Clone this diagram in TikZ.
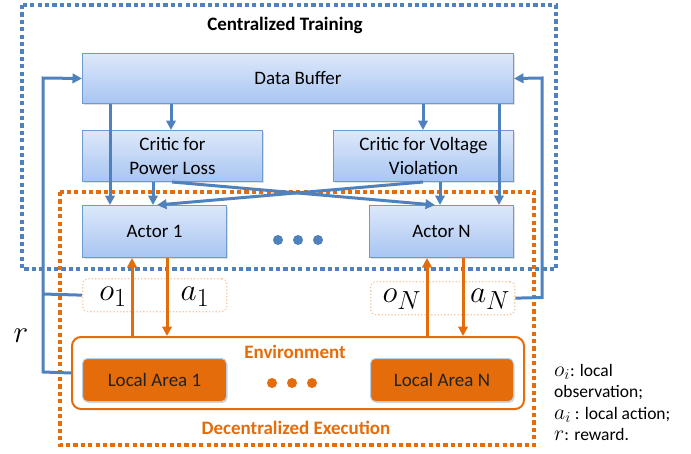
\documentclass[tikz,border=0pt]{standalone}
\usepackage{graphicx}
\usepackage{fontspec}
\setmainfont{Carlito}
\usetikzlibrary{arrows.meta,shadows}
\definecolor{lblue}{HTML}{4F81BD}
\definecolor{bborder}{HTML}{6E9AD0}
\definecolor{btop}{HTML}{DDE8FA}
\definecolor{bbot}{HTML}{A8C5F2}
\definecolor{orng}{HTML}{E46C0A}
\definecolor{lorng}{HTML}{F6C8A2}
\definecolor{ltext}{HTML}{222222}
\newcommand{\mylblmath}[1]{\scalebox{1.26}{\fontsize{24.88}{30}\selectfont$#1$}}
\newcommand{\mylegmath}[1]{\scalebox{1.05}{\fontsize{20.74}{24}\selectfont$#1$}}
\begin{document}
\begin{tikzpicture}[x=1pt,y=-1pt,
  bluebox/.style={draw=bborder, line width=1pt, top color=btop, bottom color=bbot,
     anchor=north west, inner sep=0pt, align=center, font=\fontsize{19}{24}\selectfont,
     drop shadow={shadow xshift=1pt, shadow yshift=-1.5pt, opacity=0.25}},
  areabox/.style={draw=cyan!30!lblue!40, line width=1pt, fill=orng, rounded corners=5pt,
     anchor=north west, inner sep=0pt, font=\fontsize{19}{24}\selectfont, text=ltext,
     drop shadow={shadow xshift=1pt, shadow yshift=-1.5pt, opacity=0.3}},
  obsbox/.style={draw=lorng, line width=1.3pt, dotted, rounded corners=5pt,
     anchor=north west, inner sep=0pt},
  bframe/.style={draw=lblue, line width=4.5pt, dash pattern=on 4.2pt off 3.2pt},
  oframe/.style={draw=orng, line width=4.5pt, dash pattern=on 4.2pt off 3.2pt},
  barrow/.style={draw=lblue, line width=3pt, -{Triangle[length=9.5pt,width=9.5pt]}},
  bline/.style={draw=lblue, line width=3pt},
  oarrow/.style={draw=orng, line width=3pt, -{Triangle[length=9.5pt,width=9.5pt]}},
  mathlbl/.style={inner sep=0pt},
  legend/.style={anchor=base west, inner sep=0pt, font=\fontsize{17.5}{21}\selectfont},
  dot/.style={circle, inner sep=0pt, minimum size=10pt}
]
\useasboundingbox (0,0) rectangle (691,453);

% frames
\draw[bframe] (22,5) rectangle (556,269);
\draw[oframe] (60,192) rectangle (534,445);

\node[font=\bfseries\fontsize{19}{24}\selectfont] (ct) at (285,25) {Centralized Training};

% boxes
\node[bluebox, minimum width=431pt, minimum height=50pt] (db) at (82,53) {Data Buffer};
\node[bluebox, minimum width=180pt, minimum height=51pt] (pl) at (82,130) {Critic for\\Power Loss};
\node[bluebox, minimum width=180pt, minimum height=51pt] (vv) at (333,130) {Critic for Voltage\\Violation};
\node[bluebox, minimum width=144pt, minimum height=52pt] (a1) at (82,205) {Actor 1};
\node[bluebox, minimum width=144pt, minimum height=52pt] (aN) at (369,205) {Actor N};

\node[dot, fill=lblue] (bd1) at (278,240) {};
\node[dot, fill=lblue] (bd2) at (298,240) {};
\node[dot, fill=lblue] (bd3) at (318,240) {};

% observation/action boxes
\node[obsbox, minimum width=144pt, minimum height=33pt] (oa1) at (82,278) {};
\node[obsbox, minimum width=144pt, minimum height=33pt] (oaN) at (370,281) {};
\node[mathlbl] (o1) at (113,297) {\mylblmath{o_1}};
\node[mathlbl] (al1) at (195,297) {\mylblmath{a_1}};
\node[mathlbl] (oN) at (402,299) {\mylblmath{o_N}};
\node[mathlbl] (alN) at (490,299) {\mylblmath{a_N}};

% environment
\node[draw=orng, line width=2pt, fill=white, rounded corners=9pt, anchor=north west,
  minimum width=452pt, minimum height=72pt, inner sep=0pt] (env) at (71,336) {};
\node[font=\bfseries\fontsize{19}{24}\selectfont, text=orng] (envl) at (295,352) {Environment};
\node[areabox, minimum width=144pt, minimum height=43pt] (la1) at (82,358) {Local Area 1};
\node[areabox, minimum width=143pt, minimum height=43pt] (laN) at (370,358) {Local Area N};
\node[dot, fill=orng] (od1) at (272,383) {};
\node[dot, fill=orng] (od2) at (292,383) {};
\node[dot, fill=orng] (od3) at (312,383) {};
\node[font=\bfseries\fontsize{19}{24}\selectfont, text=orng] (de) at (296,428) {Decentralized Execution};

% blue arrows from data buffer
\draw[barrow] (db.south -| 110,0) -- (a1.north -| 110,0);
\draw[barrow] (db.south -| 171,0) -- (pl.north -| 171,0);
\draw[barrow] (db.south -| 423,0) -- (vv.north -| 423,0);
\draw[barrow] (db.south -| 499,0) -- (aN.north -| 499,0);
% critics to actors
\draw[barrow] (pl.south -| 153,0) -- (a1.north -| 153,0);
\draw[barrow] (vv.south -| 440,0) -- (aN.north -| 440,0);
\draw[barrow] (pl.south -| 172,0) -- (aN.north -| 435,0);
\draw[barrow] (vv.south -| 423,0) -- (a1.north -| 157,0);

% feedback loops
\coordinate (lc1) at (43,372);
\coordinate (lc2) at (43,78);
\coordinate (lc3) at (43,294);
\draw[barrow] (env.west) -- (lc1) -- (lc2) -- (db.west);
\draw[bline] (oa1.west) -- (lc3);
\coordinate (rc1) at (542,297.5);
\coordinate (rc2) at (542,78);
\draw[barrow] (oaN.east) -- (rc1) -- (rc2) -- (db.east);
\node[mathlbl] (rl) at (21,336) {\mylblmath{r}};

% orange arrows
\draw[oarrow] (env.north -| 132,0) -- (a1.south -| 132,0);
\draw[oarrow] (a1.south -| 167,0) -- (env.north -| 167,0);
\draw[oarrow] (env.north -| 427,0) -- (aN.south -| 427,0);
\draw[oarrow] (aN.south -| 463,0) -- (env.north -| 463,0);

% legend
\node[legend] (lg1) at (554,376) {\mylegmath{o_i}: local};
\node[legend] (lg2) at (554,397) {observation;};
\node[legend] (lg3) at (554,419) {\mylegmath{a_i} : local action;};
\node[legend] (lg4) at (554,440) {\mylegmath{r}: reward.};
\end{tikzpicture}
\end{document}
